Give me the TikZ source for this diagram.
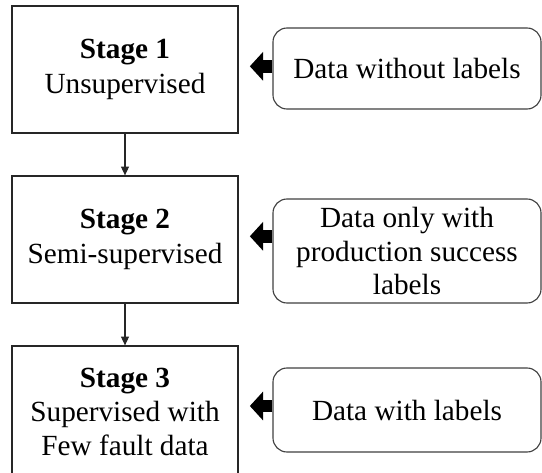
\documentclass[tikz,border=0pt]{standalone}
\usepackage{fontspec}
\setmainfont{Liberation Serif}
\definecolor{FrameGray}{HTML}{262626}
\definecolor{SourceGray}{HTML}{404040}
\usetikzlibrary{arrows.meta, positioning}
\tikzset{
  stagebox/.style={draw=FrameGray, line width=0.9pt, fill=white, align=center, minimum width=5.65cm, minimum height=3.175cm, inner sep=2pt, font=\fontsize{20.8}{24.5}\selectfont},
  databox/.style={draw=SourceGray, line width=0.8pt, rounded corners=0.35cm, fill=white, align=center, minimum width=6.7cm, inner sep=2pt, font=\fontsize{20.8}{24}\selectfont},
  downarrow/.style={-{Triangle[length=2.2mm, width=2mm]}, line width=0.8pt, draw=FrameGray},
  feedarrow/.style={-{Triangle[length=3.3mm, width=7mm]}, line width=9pt, draw=black, shorten >=2.8mm}
}

\begin{document}
\begin{tikzpicture}
\useasboundingbox (0,0) rectangle (13.55,11.8);

% training stages
\node[stagebox] (stage1) at (3.125,10.0625) {\textbf{Stage 1}\\Unsupervised};
\node[stagebox] (stage2) at (3.125,5.8125) {\textbf{Stage 2}\\Semi-supervised};
\node[stagebox, minimum height=3.3cm] (stage3) at (3.125,1.5) {\textbf{Stage 3}\\Supervised with\\Few fault data};

% data available at each stage
\node[databox, minimum height=2.025cm] (nolabel) at (10.175,10.0875) {Data without labels};
\node[databox, minimum height=2.6cm] (success) at (10.175,5.525) {Data only with\\production success\\labels};
\node[databox, minimum height=2.1cm] (labeled) at (10.175,1.55) {Data with labels};

\draw[downarrow] (stage1) -- (stage2);
\draw[downarrow] (stage2) -- (stage3);

\draw[feedarrow] ([yshift=0.08cm]stage1.east -| nolabel.west) -- ([yshift=0.08cm]stage1.east);
\draw[feedarrow] ([yshift=0.08cm]stage2.east -| success.west) -- ([yshift=0.08cm]stage2.east);
\draw[feedarrow] ([yshift=0.15cm]stage3.east -| labeled.west) -- ([yshift=0.15cm]stage3.east);
\end{tikzpicture}
\end{document}
